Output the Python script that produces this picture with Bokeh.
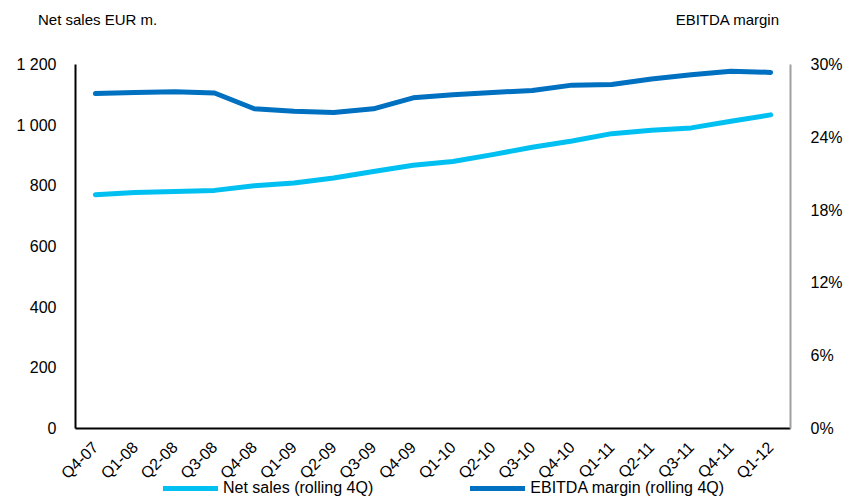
from bokeh.plotting import figure
from bokeh.layouts import column
from bokeh.models import (FactorRange, Range1d, LinearAxis, FixedTicker, Legend,
                          LegendItem, ColumnDataSource, Div)
from bokeh.embed import file_html
from bokeh.resources import INLINE
import math

# Quarterly figures, rolling four quarters
quarters = ["Q4-07", "Q1-08", "Q2-08", "Q3-08", "Q4-08", "Q1-09", "Q2-09", "Q3-09",
            "Q4-09", "Q1-10", "Q2-10", "Q3-10", "Q4-10", "Q1-11", "Q2-11", "Q3-11",
            "Q4-11", "Q1-12"]
net_sales = [771, 778, 781, 785, 800, 809, 826, 847, 868, 880, 903, 927, 948,
             972, 983, 991, 1013, 1034]
ebitda_margin = [27.6, 27.7, 27.75, 27.65, 26.35, 26.15, 26.05, 26.35, 27.25,
                 27.5, 27.7, 27.85, 28.3, 28.35, 28.8, 29.15, 29.45, 29.35]

sales_ticks = [0, 200, 400, 600, 800, 1000, 1200]
sales_tick_labels = ["0", "200", "400", "600", "800", "1 000", "1 200"]
margin_ticks = [0, 6, 12, 18, 24, 30]
margin_tick_labels = ["0%", "6%", "12%", "18%", "24%", "30%"]

sales_caption = "Net sales EUR m."
margin_caption = "EBITDA margin"
sales_name = "Net sales (rolling 4Q)"
margin_name = "EBITDA margin (rolling 4Q)"

FONT = "Liberation Sans"
LIGHT = "#00C0F2"
DARK = "#0070C0"
W = 848

# Header with the two axis captions
head = Div(
    text=(f'<span style="position:absolute;left:38px;top:9px;white-space:nowrap;">'
          f'{sales_caption}</span>'
          f'<span style="position:absolute;right:69px;top:9px;white-space:nowrap;">'
          f'{margin_caption}</span>'),
    width=W, height=40,
    styles={"position": "relative", "font-family": FONT, "font-size": "15px",
            "color": "black", "margin": "0", "padding": "0"})

# Main chart
p = figure(width=W, height=450, x_range=FactorRange(*quarters, range_padding=0),
           y_range=Range1d(0, 1200), output_backend="svg", toolbar_location=None,
           min_border_left=75, min_border_right=58, min_border_top=24,
           min_border_bottom=62)
p.outline_line_color = None
p.grid.grid_line_color = None
p.extra_y_ranges = {"margin": Range1d(0, 30)}

src = ColumnDataSource(dict(q=quarters, sales=net_sales, margin=ebitda_margin))
line_sales = dict(line_color=LIGHT, line_width=5, line_cap="round", line_join="round")
line_margin = dict(line_color=DARK, line_width=5, line_cap="round", line_join="round")

p.line("q", "sales", source=src, **line_sales)
p.line("q", "margin", source=src, y_range_name="margin", **line_margin)

# Left axis: net sales
ya = p.yaxis[0]
ya.ticker = FixedTicker(ticks=sales_ticks)
ya.major_label_overrides = dict(zip(sales_ticks, sales_tick_labels))
ya.axis_line_color = "black"
ya.axis_line_width = 2
ya.major_tick_line_color = None
ya.minor_tick_line_color = None
ya.major_label_standoff = 13
ya.major_label_text_font = FONT
ya.major_label_text_font_size = "16px"
ya.major_label_text_color = "black"

# Right axis: EBITDA margin
ra = LinearAxis(y_range_name="margin", ticker=FixedTicker(ticks=margin_ticks))
ra.major_label_overrides = dict(zip(margin_ticks, margin_tick_labels))
ra.axis_line_color = "#a0a0a0"
ra.axis_line_width = 2
ra.major_tick_line_color = None
ra.minor_tick_line_color = None
ra.major_label_standoff = 14
ra.major_label_text_font = FONT
ra.major_label_text_font_size = "16px"
ra.major_label_text_color = "black"
p.add_layout(ra, "right")

# Bottom axis: quarters
xa = p.xaxis[0]
xa.axis_line_color = "black"
xa.axis_line_width = 2
xa.major_tick_line_color = None
xa.minor_tick_line_color = None
xa.major_label_orientation = math.pi / 4
xa.major_label_standoff = 10
xa.major_label_text_font = FONT
xa.major_label_text_font_size = "16px"
xa.major_label_text_color = "black"

# Legend strip, tucked into the empty space under the quarter labels
foot = figure(width=W, height=18, x_range=Range1d(0, 1), y_range=Range1d(0, 1),
              output_backend="svg", toolbar_location=None,
              min_border_left=75, min_border_right=58, min_border_top=0,
              min_border_bottom=0, x_axis_location=None, y_axis_location=None,
              styles={"margin-top": "-10px"})
foot.outline_line_color = None
foot.grid.grid_line_color = None
foot.background_fill_alpha = 0
foot.border_fill_alpha = 0
key_src = ColumnDataSource(dict(x=[float("nan")], y=[float("nan")]))
k1 = foot.line("x", "y", source=key_src, **line_sales)
k2 = foot.line("x", "y", source=key_src, **line_margin)
legend = Legend(items=[LegendItem(label=sales_name, renderers=[k1]),
                       LegendItem(label=margin_name, renderers=[k2])],
                orientation="horizontal", location=(88, 1), spacing=97,
                glyph_width=55, glyph_height=16, label_height=16, label_standoff=5,
                padding=0, margin=0,
                label_text_font=FONT, label_text_font_size="16px",
                label_text_color="black",
                border_line_color=None, background_fill_alpha=0)
foot.add_layout(legend, "center")

layout = column(head, p, foot, spacing=0)
open("out.html", "w").write(file_html(layout, INLINE))
